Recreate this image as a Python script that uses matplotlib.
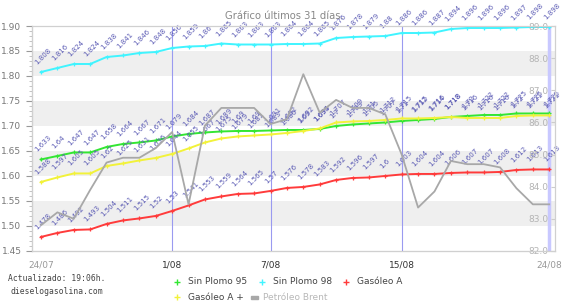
import matplotlib
matplotlib.use('Agg')
import matplotlib.pyplot as plt
from matplotlib.lines import Line2D
from matplotlib.patches import Rectangle

# dias del 24/07 al 24/08
dias = list(range(32))
tick_pos = [0, 8, 14, 22, 31]
tick_labels = ['24/07', '1/08', '7/08', '15/08', '24/08']
lineas_v = [8, 14, 22, 31]

sp95 = [1.633, 1.640, 1.647, 1.647, 1.658, 1.664, 1.667, 1.671, 1.679, 1.684, 1.687,
        1.689, 1.690, 1.690, 1.691, 1.692, 1.692, 1.694, 1.700, 1.703, 1.705, 1.707,
        1.710, 1.712, 1.714, 1.718, 1.720, 1.722, 1.722, 1.725, 1.725, 1.725]
sp98 = [1.808, 1.816, 1.824, 1.824, 1.838, 1.841, 1.846, 1.848, 1.856, 1.859, 1.860,
        1.865, 1.863, 1.863, 1.863, 1.864, 1.864, 1.865, 1.876, 1.878, 1.879, 1.880,
        1.886, 1.886, 1.887, 1.894, 1.896, 1.896, 1.896, 1.897, 1.898, 1.898]
gasoleo_a = [1.478, 1.486, 1.492, 1.493, 1.504, 1.511, 1.515, 1.520, 1.530, 1.541, 1.553,
             1.559, 1.564, 1.565, 1.570, 1.576, 1.578, 1.583, 1.592, 1.596, 1.597, 1.600,
             1.603, 1.604, 1.604, 1.606, 1.607, 1.607, 1.608, 1.612, 1.613, 1.613]
gasoleo_a_plus = [1.588, 1.597, 1.605, 1.605, 1.620, 1.625, 1.631, 1.636, 1.644, 1.655, 1.667,
                  1.675, 1.679, 1.681, 1.683, 1.686, 1.690, 1.695, 1.707, 1.709, 1.710, 1.712,
                  1.715, 1.715, 1.716, 1.718, 1.716, 1.716, 1.716, 1.720, 1.721, 1.721]
brent = [82.8, 83.2, 83.0, 83.9, 84.75, 84.9, 84.9, 85.2, 85.7, 83.45, 85.9, 86.45,
         86.45, 86.45, 85.95, 86.1, 87.5, 86.3, 86.7, 86.45, 86.45, 86.25, 85.0, 83.35,
         83.85, 84.8, 84.7, 84.7, 84.6, 83.95, 83.45, 83.45]

series = [
    ('Sin Plomo 95', sp95, '#33e633'),
    ('Sin Plomo 98', sp98, '#40f4ff'),
    ('Gasóleo A', gasoleo_a, '#ff3b3b'),
    ('Gasóleo A +', gasoleo_a_plus, '#f2f23a'),
]

fig = plt.figure(figsize=(5.67, 3.06), dpi=100)
ax = fig.add_axes([0.0564, 0.18, 0.9224, 0.735])
ax.set_xlim(-0.55, 31.35)
ax.set_ylim(1.45, 1.90)

# bandas de fondo
for y0 in [1.80, 1.70, 1.60, 1.50]:
    ax.axhspan(y0, y0 + 0.05, color='#efefef', lw=0, zorder=0)

for d in lineas_v[:-1]:
    ax.axvline(d, color='#9a9af0', lw=0.8, zorder=1)
ax.axvline(lineas_v[-1], color='#c8c8ff', lw=2.5, zorder=1)

ax2 = ax.twinx()
ax2.set_ylim(82, 89)
ax2.plot(dias, brent, color='#a8a8a8', lw=1.3, zorder=2)

for name, vals, col in series:
    ax.plot(dias, vals, color=col, lw=1.4, marker='+', ms=3.5, mew=0.9, zorder=3)
    for d, v in zip(dias, vals):
        ax.annotate(f'{v:g}', (d, v), xytext=(-2, 4.5), textcoords='offset points',
                    rotation=45, rotation_mode='anchor', ha='left', va='bottom',
                    fontsize=5, color='#5a5ab4', zorder=4)

ax.set_yticks([1.45, 1.50, 1.55, 1.60, 1.65, 1.70, 1.75, 1.80, 1.85, 1.90])
ax.set_yticks([1.45 + 0.01 * i for i in range(46)], minor=True)
ax.set_yticklabels(['%.2f' % t for t in ax.get_yticks()])
ax.tick_params(axis='y', which='major', colors='#999999', labelcolor='#777777',
               labelsize=6.5, length=4, width=0.8)
ax.tick_params(axis='y', which='minor', colors='#bbbbbb', length=2, width=0.6)
ax.set_xticks(tick_pos)
ax.set_xticklabels(tick_labels)
ax.tick_params(axis='x', length=0, labelsize=6.5, labelcolor='#333333', pad=7)
for lbl in [ax.get_xticklabels()[0], ax.get_xticklabels()[-1]]:
    lbl.set_color('#999999')

ax2.set_yticks([82, 83, 84, 85, 86, 87, 88, 89])
ax2.set_yticklabels(['%.1f' % t for t in ax2.get_yticks()])
ax2.tick_params(axis='y', direction='in', pad=-19, labelsize=6.5,
                labelcolor='#b4b4b4', colors='#cccccc', length=3)

for a in [ax, ax2]:
    for s in a.spines.values():
        s.set_color('#d0d0d0')
        s.set_linewidth(0.8)
ax.spines['left'].set_color('#999999')
ax.spines['bottom'].set_color('#aaaaaa')

fig.text(0.501, 0.948, 'Gráfico últimos 31 días.', ha='center', va='center',
         fontsize=7.2, color='#888888')

fig.text(0.1, 0.068, 'Actualizado: 19:06h.\ndieselogasolina.com', ha='center', va='center',
         fontsize=5.8, family='monospace', color='#444444', linespacing=1.5)

# leyenda manual
leg = [
    (177, 282, 'Sin Plomo 95', '#33e633', '#444444'),
    (262, 282, 'Sin Plomo 98', '#40f4ff', '#444444'),
    (346, 282, 'Gasóleo A', '#ff3b3b', '#444444'),
    (177, 297, 'Gasóleo A +', '#f2f23a', '#444444'),
]
W, H = 567.0, 306.0
for x, y, txt, col, tcol in leg:
    fig.add_artist(Line2D([x / W], [1 - y / H], marker='+', color=col, ms=4, mew=1,
                          transform=fig.transFigure))
    fig.text((x + 11) / W, 1 - y / H, txt, ha='left', va='center', fontsize=6.5, color=tcol)
fig.add_artist(Rectangle((251 / W, 1 - 299 / H), 7 / W, 3.5 / H, color='#a8a8a8',
                         transform=fig.transFigure))
fig.text(263 / W, 1 - 297 / H, 'Petróleo Brent', ha='left', va='center', fontsize=6.5,
         color='#b8b8b8')

fig.savefig('out.png', dpi=100)
